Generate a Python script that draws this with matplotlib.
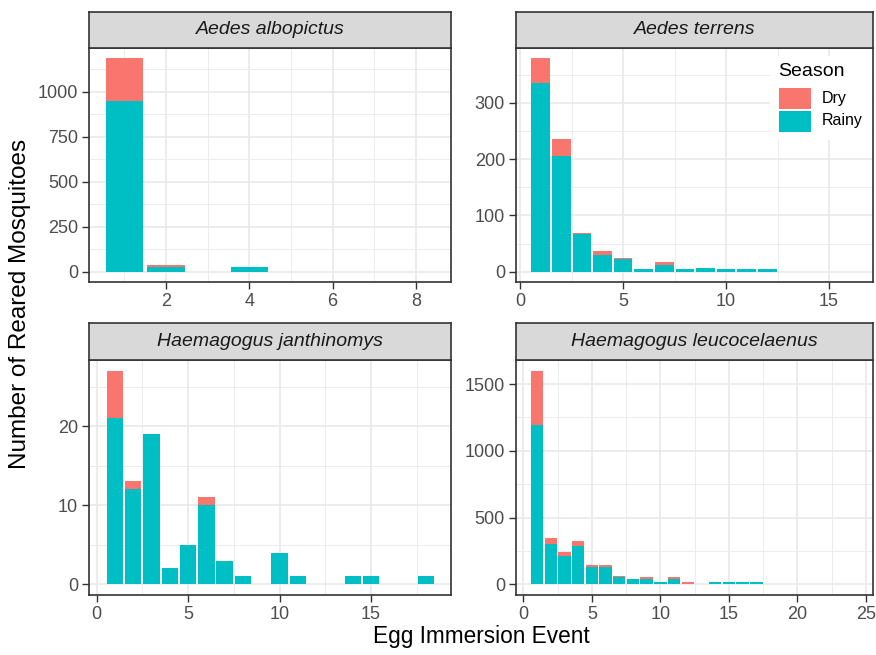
import matplotlib
matplotlib.use("Agg")
import matplotlib.pyplot as plt
from matplotlib.patches import Rectangle
from matplotlib.ticker import MultipleLocator

plt.rcParams['font.family'] = ['Liberation Sans', 'DejaVu Sans']

# data: egg immersion event -> reared mosquitoes (rainy / dry season)
species = ["Aedes albopictus", "Aedes terrens",
           "Haemagogus janthinomys", "Haemagogus leucocelaenus"]

alb_event = [1, 2, 4]
alb_rainy = [950, 27, 28]
alb_dry = [235, 9, 0]

ter_event = [1, 2, 3, 4, 5, 6, 7, 8, 9, 10, 11, 12]
ter_rainy = [335, 206, 67, 30, 22, 4, 11, 4, 7, 4, 4, 4]
ter_dry = [44, 30, 2, 6, 3, 0, 6, 0, 0, 0, 0, 0]

jan_event = [1, 2, 3, 4, 5, 6, 7, 8, 10, 11, 14, 15, 18]
jan_rainy = [21, 12, 19, 2, 5, 10, 3, 1, 4, 1, 1, 1, 1]
jan_dry = [6, 1, 0, 0, 0, 1, 0, 0, 0, 0, 0, 0, 0]

leu_event = [1, 2, 3, 4, 5, 6, 7, 8, 9, 10, 11, 12, 14, 15, 16, 17]
leu_rainy = [1195, 305, 211, 290, 131, 131, 52, 40, 40, 15, 40, 0, 14, 14, 14, 14]
leu_dry = [405, 42, 34, 35, 10, 10, 10, 0, 12, 0, 12, 17, 0, 0, 0, 0]

seasons = ["Dry", "Rainy"]
DRY = "#F8766D"
RAINY = "#00BFC4"
W, H = 876, 655

fig = plt.figure(figsize=(W / 100, H / 100), dpi=100)


def frac(x0, x1, ytop, ybot):
    return [x0 / W, 1 - ybot / H, (x1 - x0) / W, (ybot - ytop) / H]


# (data, panel box px, strip top px, xlim, x major, y major)
panels = [
    (alb_event, alb_rainy, alb_dry, (89.3, 451, 47.7, 282.3), 12.3, (0.155, 8.845), 2, 250),
    (ter_event, ter_rainy, ter_dry, (516, 873.3, 47.7, 282.3), 12.3, (-0.2, 17.15), 5, 100),
    (jan_event, jan_rainy, jan_dry, (89.3, 451, 360, 595), 323, (-0.4, 19.37), 5, 10),
    (leu_event, leu_rainy, leu_dry, (516, 873.3, 360, 595), 323, (-0.53, 25.53), 5, 500),
]

axes = []
for name, (ev, rn, dr, box, stop, xl, xm, ym) in zip(species, panels):
    x0, x1, yt, yb = box
    ax = fig.add_axes(frac(x0, x1, yt, yb))
    ax.bar(ev, rn, width=0.9, color=RAINY, linewidth=0, zorder=3)
    ax.bar(ev, dr, width=0.9, bottom=rn, color=DRY, linewidth=0, zorder=3)
    top = max(r + d for r, d in zip(rn, dr))
    yl = (-0.05 * top, 1.05 * top)
    ax.set_xlim(*xl)
    ax.set_ylim(*yl)
    ax.xaxis.set_major_locator(MultipleLocator(xm))
    ax.xaxis.set_minor_locator(MultipleLocator(xm / 2))
    ax.yaxis.set_major_locator(MultipleLocator(ym))
    ax.yaxis.set_minor_locator(MultipleLocator(ym / 2))
    ax.grid(which="major", color="#E9E9E9", linewidth=1.2, zorder=0)
    ax.grid(which="minor", color="#E9E9E9", linewidth=0.6, zorder=0)
    ax.set_axisbelow(True)
    ax.tick_params(which="major", length=5, width=1, color="#333333",
                   labelsize=13, labelcolor="#4D4D4D", pad=3)
    ax.tick_params(which="minor", length=0)
    for s in ax.spines.values():
        s.set_color("#333333")
        s.set_linewidth(1.2)
    ax.set_xticks([t for t in ax.get_xticks() if xl[0] <= t <= xl[1]])
    ax.set_yticks([t for t in ax.get_yticks() if 0 <= t <= yl[1]])

    # facet strip
    sax = fig.add_axes(frac(x0, x1, stop, yt))
    sax.set_facecolor("#D9D9D9")
    sax.set_xticks([])
    sax.set_yticks([])
    for s in sax.spines.values():
        s.set_color("#333333")
        s.set_linewidth(1.2)
    sax.text(0.5, 0.5, name, ha="center", va="center", style="italic",
             fontsize=14, color="#1A1A1A", transform=sax.transAxes)
    axes.append(ax)

fig.text(481 / W, 1 - 636 / H, "Egg Immersion Event", ha="center", va="center",
         fontsize=16.3, color="black")
fig.text(20 / W, 1 - 304 / H, "Number of Reared Mosquitoes", ha="center", va="center",
         rotation=90, fontsize=17.5, color="black")

# legend drawn by hand (ggplot style: white box, title above keys)
fig.add_artist(Rectangle((770 / W, 1 - 140 / H), 102 / W, 84 / H,
                         transform=fig.transFigure, facecolor="white",
                         edgecolor="none", zorder=5))
fig.text(778 / W, 1 - 72 / H, "Season", ha="left", va="center",
         fontsize=14, color="black", zorder=6)
for i, (lab, col) in enumerate(zip(seasons, [DRY, RAINY])):
    ytop = 88 + i * 22.5
    fig.add_artist(Rectangle((779 / W, 1 - (ytop + 21) / H), 32 / W, 21 / H,
                             transform=fig.transFigure, facecolor=col,
                             edgecolor="none", zorder=6))
    fig.text(822 / W, 1 - (ytop + 10.5) / H, lab, ha="left", va="center",
             fontsize=11.5, color="black", zorder=6)

fig.savefig("out.png", dpi=100, facecolor="white")
